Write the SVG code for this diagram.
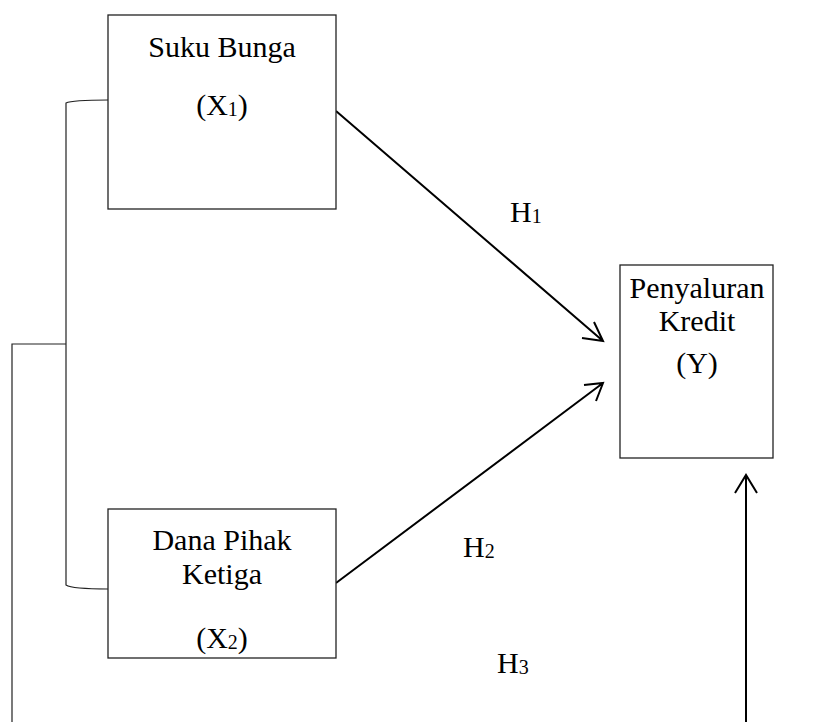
<svg xmlns="http://www.w3.org/2000/svg" width="836" height="722" viewBox="0 0 836 722">
<style>
.box{fill:#fff;stroke:#222;stroke-width:1.3}
.t{font-family:"Liberation Serif","Times New Roman",serif;font-size:30px;fill:#000;text-anchor:middle}
.h{font-family:"Liberation Serif","Times New Roman",serif;font-size:30px;fill:#000}
.sub{font-size:20px}
.ln{fill:none;stroke:#000;stroke-width:2}
.br{fill:none;stroke:#222;stroke-width:1.2}
</style>
<rect width="836" height="722" fill="#fff"/>
<g id="connectors">
<path class="br" d="M108,100 Q72,100 66,103 L66,585 Q72,589 108,589"/>
<path class="br" d="M66,344 L12,344 L12,722"/>
<path class="ln" d="M336,111 L603,341 M582,338 L603,341 L594,322"/>
<path class="ln" d="M336,583 L603,383 M584,385 L603,383 L596,401"/>
<path class="ln" d="M746,722 L746,475 M735,493 L746,475 L757,493"/>
</g>
<g id="suku-bunga">
<rect class="box" x="108" y="15" width="228" height="194"/>
<text class="t" x="222" y="57">Suku Bunga</text>
<text class="t" x="222" y="115">(X<tspan class="sub" dy="1">1</tspan><tspan dy="-1">)</tspan></text>
</g>
<g id="dana-pihak-ketiga">
<rect class="box" x="108" y="509" width="228" height="149"/>
<text class="t" x="222" y="550">Dana Pihak</text>
<text class="t" x="222" y="584">Ketiga</text>
<text class="t" x="222" y="648">(X<tspan class="sub" dy="1">2</tspan><tspan dy="-1">)</tspan></text>
</g>
<g id="penyaluran-kredit">
<rect class="box" x="620" y="265" width="153" height="193"/>
<text class="t" x="697" y="298">Penyaluran</text>
<text class="t" x="697" y="331">Kredit</text>
<text class="t" x="697" y="373">(Y)</text>
</g>
<g id="labels">
<text class="h" x="510" y="222">H<tspan class="sub" dy="1">1</tspan></text>
<text class="h" x="463" y="557">H<tspan class="sub" dy="1">2</tspan></text>
<text class="h" x="497" y="673">H<tspan class="sub" dy="1">3</tspan></text>
</g>
</svg>
